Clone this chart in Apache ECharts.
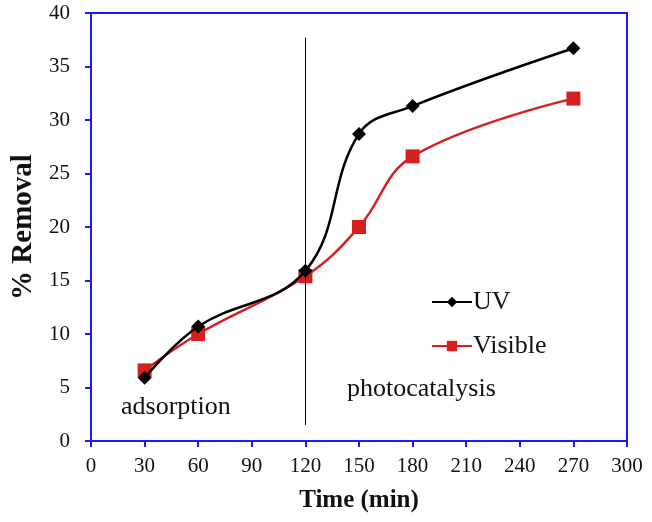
<!DOCTYPE html>
<html>
<head>
<meta charset="utf-8">
<script src="https://cdn.jsdelivr.net/npm/echarts@6/dist/echarts.min.js"></script>
<style>
    html, body {margin: 0; padding: 0; background: #fff;}
    #chart {width: 652px; height: 522px;}
</style>
</head>
<body>
<div id="chart"></div>
<script>
    // time points (min)
    var times = [30, 60, 120, 150, 180, 270];
    // % removal under UV light
    var uvValues = [5.9, 10.7, 15.9, 28.7, 31.3, 36.7];
    // % removal under visible light
    var visibleValues = [6.6, 10.0, 15.4, 20.0, 26.6, 32.0];
    // separator between adsorption and photocatalysis stages
    var stageSplit = [[120, 37.7], [120, 1.5]];

    var serif = '"Liberation Serif", "DejaVu Serif", serif';
    var blue = '#1a1aff';

    function pairs(xs, ys) {
        return xs.map(function (x, i) {
            return [x, ys[i]];
        });
    }

    var chart = echarts.init(document.getElementById('chart'));

    var axisCommon = {
        axisLine: {show: true, lineStyle: {color: blue, width: 2}},
        axisTick: {show: true, inside: false, length: 6, lineStyle: {color: blue, width: 2}},
        splitLine: {show: false},
        axisLabel: {color: '#111', fontFamily: serif, fontSize: 21}
    };

    var option = {
        backgroundColor: '#fff',
        animation: false,
        grid: {
            left: 91,
            right: 25,
            top: 13,
            bottom: 81,
            containLabel: false,
            outerBoundsMode: 'none',
            show: true,
            borderColor: blue,
            borderWidth: 2
        },
        xAxis: echarts.util.merge({
            type: 'value',
            min: 0,
            max: 300,
            interval: 30,
            name: 'Time (min)',
            nameLocation: 'middle',
            nameGap: 47,
            nameTextStyle: {color: '#111', fontFamily: serif, fontSize: 25, fontWeight: 'bold'},
            axisLabel: {margin: 15}
        }, axisCommon),
        yAxis: echarts.util.merge({
            type: 'value',
            min: 0,
            max: 40,
            interval: 5,
            name: '% Removal',
            nameLocation: 'middle',
            nameGap: 53,
            nameTextStyle: {color: '#111', fontFamily: serif, fontSize: 29, fontWeight: 'bold'},
            axisLabel: {margin: 21}
        }, axisCommon),
        legend: {
            orient: 'vertical',
            left: 426,
            top: 284,
            itemGap: 18,
            itemWidth: 40,
            itemHeight: 13,
            textStyle: {color: '#111', fontFamily: serif, fontSize: 26, padding: [0, 0, 0, -4]},
            data: ['UV', 'Visible']
        },
        series: [
            {
                name: 'UV',
                type: 'line',
                smooth: 0.4,
                data: pairs(times, uvValues),
                symbol: 'diamond',
                symbolSize: 14,
                lineStyle: {color: '#000', width: 2.5},
                itemStyle: {color: '#000'},
                z: 3,
                markLine: {
                    silent: true,
                    symbol: 'none',
                    label: {show: false},
                    lineStyle: {color: '#000', width: 1, type: 'solid'},
                    data: [[{coord: stageSplit[0]}, {coord: stageSplit[1]}]]
                }
            },
            {
                name: 'Visible',
                type: 'line',
                smooth: 0.4,
                data: pairs(times, visibleValues),
                symbol: 'rect',
                symbolSize: 14,
                lineStyle: {color: '#d62020', width: 2.5},
                itemStyle: {color: '#d62020'},
                z: 2
            }
        ],
        graphic: [
            {
                type: 'text',
                left: 121,
                top: 394,
                style: {text: 'adsorption', fill: '#111', font: '26px ' + serif}
            },
            {
                type: 'text',
                left: 347,
                top: 376,
                style: {text: 'photocatalysis', fill: '#111', font: '26px ' + serif}
            }
        ]
    };

    chart.setOption(option);
</script>
</body>
</html>
